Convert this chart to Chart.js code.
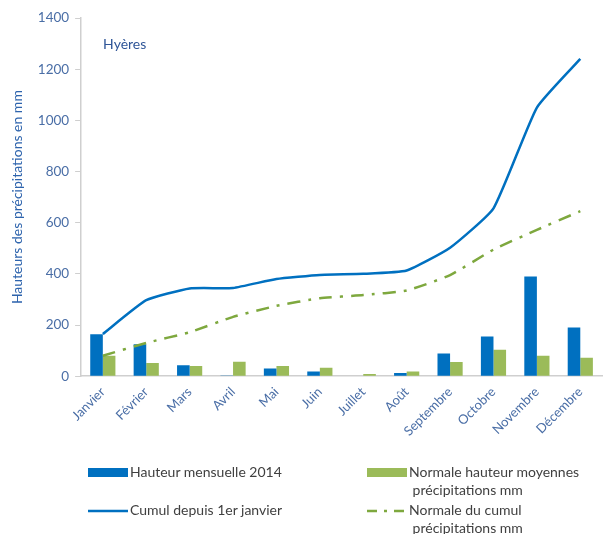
<!DOCTYPE html>
<html>
<head>
<meta charset="utf-8">
<script src="https://cdn.jsdelivr.net/npm/chart.js@4"></script>
<style>
 body { margin:0; background:#fff; }
 #wrap { position:relative; width:616px; height:534px; }
 #legende { position:absolute; left:0; top:0; width:616px; height:534px; pointer-events:none;
            font-family:Lato, "Open Sans", sans-serif; font-size:14px; color:#404040; }
 .item { position:absolute; line-height:18px; }
 .box { position:absolute; width:40px; height:9px; }
 svg { position:absolute; }
</style>
</head>
<body>
<div id="wrap">
 <canvas id="graphe" width="616" height="534"></canvas>
 <div id="legende"></div>
</div>
<script>
 var mois       = [ "Janvier", "Février", "Mars", "Avril", "Mai", "Juin", "Juillet", "Août", "Septembre", "Octobre", "Novembre", "Décembre" ];
 var hauteur    = [ 164, 125, 43, 3, 30, 18, 0, 13, 89, 155, 390, 190 ];           /* Hauteur mensuelle 2014 */
 var normale    = [ 80, 52, 40, 57, 40, 33, 9, 18, 56, 103, 80, 72 ];              /* Normale hauteur moyennes */
 var cumul      = [ 165, 297, 343, 345, 380, 396, 400, 413, 502, 656, 1050, 1240 ]; /* Cumul depuis 1er janvier */
 var cumulNorm  = [ 80, 130, 172, 232, 275, 305, 317, 335, 395, 495, 572, 645 ];    /* Normale du cumul */
 var yTicks     = [ 0, 200, 400, 600, 800, 1000, 1200, 1400 ];

 var bleu = "#0070c0", vert = "#9bbb59", vertFonce = "#7ea83e", texte = "#4a6ea6";

/********************************* Titre "Hyères" dans la zone du graphe ******************************************************/
 var titreInterne =
  { id: "titreInterne",
    afterDraw: function (chart)
     { var ctx = chart.ctx;
       ctx.save();
       ctx.font = "14px Lato";
       ctx.fillStyle = "#2f5597";
       ctx.textBaseline = "middle";
       ctx.fillText ( "Hyères", chart.chartArea.left + 22, chart.chartArea.top + 26 );
       ctx.restore();
     }
  };

 var data = { labels: mois,
              datasets: [ { type: "line", label: "Cumul depuis 1er janvier", data: cumul,
                            borderColor: bleu, borderWidth: 2.5, pointRadius: 0, tension: 0.15, order: 0 },
                          { type: "line", label: "Normale du cumul précipitations mm", data: cumulNorm,
                            borderColor: vertFonce, borderWidth: 2.5, borderDash: [ 13, 8, 3, 8 ], pointRadius: 0, tension: 0.15, order: 0 },
                          { type: "bar", label: "Hauteur mensuelle 2014", data: hauteur,
                            backgroundColor: bleu, order: 1 },
                          { type: "bar", label: "Normale hauteur moyennes précipitations mm", data: normale,
                            backgroundColor: vert, order: 1 }
                        ]
            };

 var options = { responsive: false,
                 animation: false,
                 layout: { padding: { top: 18, right: 14, bottom: 93, left: 9 } },
                 datasets: { bar: { categoryPercentage: 0.58, barPercentage: 1 } },
                 scales: { x: { grid: { display: false, drawTicks: true, tickLength: 6, color: "#d0d0d0" },
                                border: { color: "#cfcfcf", width: 1.5 },
                                ticks: { color: texte, font: { family: "Lato", size: 13 }, maxRotation: 45, minRotation: 45, padding: 2 }
                              },
                           y: { min: 0, max: 1400,
                                afterBuildTicks: function (axis) { axis.ticks = yTicks.map( function (v) { return { value: v }; } ); },
                                grid: { display: true, drawOnChartArea: false, tickLength: 6, color: "#cfcfcf" },
                                border: { color: "#cfcfcf", width: 1.5 },
                                ticks: { color: texte, font: { family: "Lato", size: 13.5 }, padding: 6,
                                         callback: function (v) { return String(v); } },
                                title: { display: true, text: "Hauteurs des précipitations en mm", color: "#2e64ad",
                                         font: { family: "Lato", size: 14 }, padding: { top: 0, bottom: 6 } }
                              }
                         },
                 plugins: { legend: { display: false }, tooltip: { enabled: false } }
               };

 new Chart ( document.getElementById("graphe").getContext("2d"),
             { type: "bar", data: data, options: options, plugins: [ titreInterne ] } );

/********************************* Légende HTML (texte sur deux lignes) *******************************************************/
 var legende = [ { x: 88,  y: 463, genre: "box",   couleur: bleu, texte: "Hauteur mensuelle 2014" },
                 { x: 367, y: 463, genre: "box",   couleur: vert, texte: "Normale hauteur moyennes<br>&nbsp;précipitations mm" },
                 { x: 88,  y: 501, genre: "ligne", couleur: bleu, texte: "Cumul depuis 1er janvier" },
                 { x: 367, y: 501, genre: "tiret", couleur: vertFonce, texte: "Normale du cumul<br>&nbsp;précipitations mm" } ];
 var div = document.getElementById("legende");
 legende.forEach( function (l)
  { if (l.genre == "box")
     { var marque = document.createElement("div");
       marque.className = "box"; marque.style.background = l.couleur; marque.style.left = l.x+"px"; marque.style.top = (l.y+5)+"px";
       div.appendChild(marque);
     }
    else
     { var dash = (l.genre == "ligne" ? "" : ' stroke-dasharray="10 7 3 7"');
       div.insertAdjacentHTML( "beforeend",
          '<svg width="40" height="6" style="left:'+l.x+'px;top:'+(l.y+7)+'px"><line x1="0" y1="3" x2="40" y2="3" stroke="'+l.couleur+
          '" stroke-width="2.5"'+dash+'/></svg>' );
     }
    var t = document.createElement("div");
    t.className = "item"; t.style.left = (l.x+42)+"px"; t.style.top = l.y+"px"; t.innerHTML = l.texte;
    div.appendChild(t);
  });
</script>
</body>
</html>
